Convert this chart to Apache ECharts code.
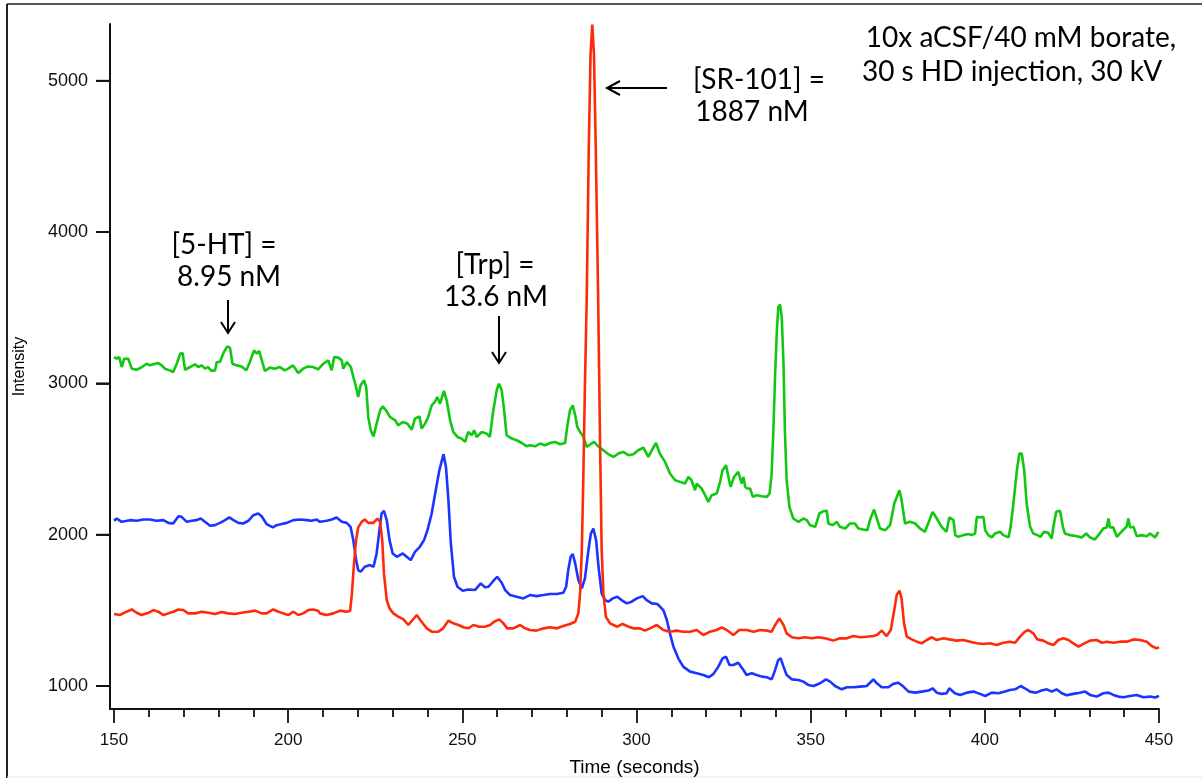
<!DOCTYPE html>
<html>
<head>
<meta charset="utf-8">
<script src="https://cdn.jsdelivr.net/npm/echarts@6/dist/echarts.min.js"></script>
<style>
html,body{margin:0;padding:0;background:#fff;}
#chart{width:1202px;height:778px;}
</style>
</head>
<body>
<div id="chart"></div>
<script>
// ---------- data ----------
const xMajorTicks = [150, 200, 250, 300, 350, 400, 450];
const xMinorTicks = [160,170,180,190,210,220,230,240,260,270,280,290,310,320,330,340,360,370,380,390,410,420,430,440];
const yTicks = [1000, 2000, 3000, 4000, 5000];

const greenTrace = [
[150,3174],[150.8,3163],[151.5,3174],[152.2,3108],[152.9,3163],[154.1,3163],[155.1,3097],[156.5,3090],[158,3108],[159.4,3130],[160.3,3119],[161.3,3126],[162.7,3134],[163.7,3119],[164.6,3097],[166,3086],[167,3075],[168,3130],[169,3196],[169.7,3200],[170.4,3090],[171.8,3108],[173.3,3126],[174.2,3108],[175.2,3119],[176.1,3097],[177,3108],[178,3082],[179,3086],[179.5,3141],[180.4,3141],[181.4,3200],[182.5,3244],[183.3,3236],[184,3130],[185.2,3119],[186.6,3112],[188,3086],[189,3141],[190.2,3218],[191,3196],[191.7,3214],[192.7,3130],[193.3,3082],[194.7,3104],[196.2,3097],[197.6,3108],[199,3086],[200,3097],[201.4,3119],[202.9,3068],[204.3,3097],[205.7,3112],[207.1,3108],[208.6,3093],
[209.1,3086],[210.1,3130],[211.5,3152],[212.5,3086],[213.2,3174],[214.4,3170],[215.4,3152],[215.8,3097],[216.8,3141],[218,3108],[218.7,3042],[219.5,2976],[220.1,2910],[220.8,2987],[221.8,3020],[222.4,2976],[223,2778],[223.7,2690],[224.5,2650],[225.4,2734],[226.4,2822],[227.1,2848],[228.1,2822],[229.2,2778],[230.7,2756],[231.6,2723],[232.9,2745],[234.2,2734],[235.5,2694],[236.4,2767],[237.7,2782],[238.3,2701],[239.3,2734],[240.2,2778],[241.2,2855],[242.1,2877],[242.8,2910],[243.6,2866],[244.7,2950],[245.5,2888],[246.5,2756],[247.4,2679],[248.6,2646],[249.8,2635],[250.8,2613],[251.7,2679],[252.7,2657],[253.4,2690],[254.1,2646],[255.6,2679],[257,2668],[257.9,2646],[258.9,2822],[259.9,2958],[260.5,2998],[261.3,2954],[262,2822],[262.7,2657],[264.2,2635],[265.6,2624],[267.1,2606],[268.5,2584],
[269.4,2591],[270.9,2584],[272.3,2602],[273.7,2591],[275.2,2606],[276.6,2613],[278.1,2598],[279.5,2606],[280.1,2712],[280.9,2822],[281.7,2855],[282.4,2789],[283,2712],[283.8,2679],[284.7,2650],[285.7,2580],[286.8,2598],[287.8,2613],[289,2584],[290.5,2558],[291.9,2532],[293.4,2514],[294.8,2536],[296.2,2547],[297.7,2525],[299.1,2532],[300.5,2558],[302,2576],[303.4,2514],[304.4,2558],[305.6,2606],[306.7,2536],[308.2,2481],[309.6,2404],[311.1,2360],[312.5,2349],[313.9,2338],[314.9,2382],[315.8,2360],[316.8,2294],[317.3,2338],[318.7,2305],[319.7,2261],[320.6,2217],[321.6,2261],[323,2272],[324,2349],[324.7,2426],[325.7,2459],[326.4,2382],[327,2316],[328,2382],[329.2,2415],
[330.2,2338],[330.7,2382],[331.2,2316],[331.8,2305],[332.6,2305],[333.4,2250],[334.5,2261],[336,2254],[337.4,2250],[338.2,2272],[338.8,2404],[339.3,2690],[339.8,3064],[340.3,3350],[340.7,3504],[341.2,3522],[341.7,3438],[342.2,3130],[342.6,2690],[343.1,2360],[343.9,2184],[345,2107],[346.5,2085],[347.9,2107],[348.9,2096],[349.8,2063],[351.3,2052],[352.5,2140],[353.7,2155],[354.6,2158],[355.1,2074],[356.3,2063],[357.5,2085],[358.4,2052],[359.9,2041],[361.3,2074],[362.7,2074],[363.7,2041],[365.1,2034],[366.3,2030],[367,2096],[368.2,2166],[369,2107],[369.9,2041],[371.4,2030],[372.8,2063],[374,2206],[375.5,2294],[376.1,2228],[377.1,2074],[378.5,2085],[380,2074],[381.4,2041],[382.8,2019],[384.1,2096],[385,2151],[386.2,2107],[387.6,2052],[389,2019],[389.8,2114],
[391,2096],[391.5,1997],[392.4,1986],[393.8,1997],[395.3,2004],[396.2,1997],[397.2,2008],[397.7,2118],[398.6,2114],[399.6,2118],[400.1,2030],[401,1997],[402,1982],[402.9,2008],[404.4,2019],[405.3,1997],[406.8,1982],[407.4,2052],[408.2,2206],[409.2,2426],[409.9,2536],[410.6,2536],[411.3,2426],[412,2206],[413,2052],[413.9,2008],[415.1,1997],[416,1986],[417,2019],[418.2,2012],[419.2,1975],[419.7,2056],[420.5,2151],[421.6,2158],[422.4,2052],[423,2008],[424.5,1997],[426.4,1990],[427.8,1982],[429.1,2008],[430.2,1982],[431.6,1968],[433.1,2012],[434,2041],[435,2048],[435.5,2107],[435.9,2048],[436.9,2048],[437.9,1986],[438.8,2008],[439.8,2034],[440.7,2052],[441.2,2107],[441.7,2048],[442.7,2052],[443.6,1990],[445,1997],[446.5,1990],[447.4,2008],[448.9,1982],[449.8,2019]
];

const blueTrace = [
[150,2092],[150.8,2107],[152.2,2085],[154.6,2096],[156.5,2092],[158.4,2100],[160.3,2100],[162.2,2092],[164.2,2096],[165.6,2078],[167,2074],[168.5,2122],[169.4,2118],[170.9,2085],[172.3,2092],[173.7,2096],[174.9,2107],[176.1,2085],[177.6,2059],[179,2063],[180.4,2078],[181.9,2096],[183.1,2114],[184.3,2096],[185.7,2078],[187.1,2074],[188.6,2092],[190,2129],[191.4,2140],[192.4,2122],[193.8,2070],[195.6,2048],[196.7,2063],[198.1,2070],[199.6,2078],[201.5,2096],[203.4,2100],[205.3,2096],[206.7,2092],[208.2,2100],
[209.1,2085],[211.1,2092],[212.5,2100],[213.9,2114],[215.4,2085],[216.8,2078],[217.9,2052],[218.7,1964],[219.5,1832],[220.1,1766],[220.8,1755],[222,1788],[223.5,1799],[224.5,1788],[225.4,1876],[226.2,2030],[226.8,2140],[227.5,2158],[228.3,2096],[229.1,1964],[230,1876],[231.2,1854],[232.9,1876],[234,1854],[235.2,1832],[236.4,1887],[237.8,1920],[239,1964],[240,2030],[241.2,2140],[242.2,2272],[243.4,2426],[244.6,2532],[245.3,2448],[246,2228],[246.7,1942],[247.6,1722],[248.6,1656],[250.1,1630],[251.7,1638],[253.6,1634],[255.3,1678],[256.5,1652],[257.5,1656],[258.7,1689],[260,1722],[261.3,1682],[262.3,1634],[263.7,1601],[265.6,1590],[267.5,1579],
[269.4,1601],[271.3,1594],[273.3,1601],[275.2,1608],[277.1,1608],[279,1616],[279.8,1656],[280.4,1766],[281.1,1854],[281.7,1872],[282.4,1810],[283.3,1700],[284.3,1645],[285.2,1711],[286.2,1898],[286.9,2008],[287.6,2041],[288.4,1964],[289.1,1788],[290,1612],[291,1568],[291.9,1557],[293.2,1579],[294.5,1590],[295.7,1568],[297.2,1546],[298.6,1557],[300.1,1579],[301.8,1594],[302.9,1568],[304.4,1546],[306,1542],[307.7,1502],[308.7,1436],[309.6,1348],[310.6,1260],[312,1183],[313.4,1128],[315.4,1095],[317.3,1084],[319.2,1073],[320.8,1058],[322.1,1080],[323.5,1128],[324.7,1183],[325.7,1194],[326.7,1139],[327.8,1139],[329.2,1154],
[330.7,1106],[331.6,1073],[333.1,1084],[334.5,1073],[336,1062],[337.4,1058],[338.8,1044],[339.8,1106],[340.7,1172],[341.4,1183],[342.2,1128],[343.1,1073],[344.6,1044],[346.5,1040],[347.9,1029],[349.3,1007],[350.8,1000],[352.7,1018],[354.4,1044],[355.6,1029],[357,1000],[358.9,978],[360.4,992],[362.3,992],[364.2,996],[366.1,1000],[368,1044],[369,1018],[370.4,992],[372.3,992],[373.7,1014],[375.2,1022],[376.6,996],[378.1,963],[380,956],[381.9,963],[383.8,970],[385,985],[386.2,956],[387.6,948],[389,952],[389.8,985],
[391.4,952],[392.9,941],[394.8,956],[396.7,963],[398.6,948],[400.1,934],[402,956],[403.9,952],[405.8,963],[407.2,974],[408.7,978],[410.3,1000],[411.5,985],[413,963],[414.7,956],[416.3,970],[417.8,978],[419.2,963],[420.6,978],[422.1,952],[423.5,939],[425.4,948],[427.3,956],[428.8,963],[430.2,941],[432.1,930],[434,952],[435.5,956],[436.9,941],[438.3,930],[439.8,926],[441.7,934],[443.6,941],[445.5,926],[447.4,930],[448.9,924],[450,935]
];

const redTrace = [
[150,1476],[151.7,1469],[153.6,1491],[155.1,1506],[156.5,1484],[157.9,1469],[159.9,1484],[161.3,1502],[162.7,1491],[164.2,1469],[165.6,1480],[167,1491],[168.5,1506],[169.9,1502],[171.3,1480],[173.3,1480],[175.2,1491],[177.1,1484],[179,1476],[180.9,1489],[182.8,1480],[184.7,1476],[186.6,1484],[188.6,1491],[190.5,1498],[192.4,1480],[193.8,1480],[195.7,1506],[197.2,1491],[198.6,1480],[200,1469],[201.5,1491],[202.9,1469],[204.3,1480],[205.8,1502],[207.2,1506],[208.6,1498],
[209.1,1480],[211,1469],[213,1480],[214.9,1498],[216.8,1491],[217.8,1498],[218.3,1612],[218.9,1810],[219.5,1964],[220.1,2048],[221.1,2085],[222,2100],[223,2078],[224.5,2078],[225.6,2107],[226.4,2085],[227,1964],[227.5,1744],[228.3,1568],[229.1,1513],[230.2,1480],[231.6,1458],[233.1,1440],[234.5,1403],[235.7,1436],[236.9,1469],[238.3,1425],[239.8,1381],[241.2,1359],[243.1,1359],[244.5,1381],[246,1432],[247.4,1414],[248.9,1403],[250.3,1388],[251.7,1381],[253.2,1403],[254.9,1392],[256.5,1392],[258,1403],[259.1,1425],[260.6,1440],[261.8,1414],[262.9,1381],[264.6,1381],[266.6,1403],[268,1381],
[269.4,1370],[271.3,1366],[273.3,1381],[275.2,1388],[277.1,1381],[279,1396],[280.9,1410],[282.4,1425],[283.3,1480],[283.8,1612],[284.3,1898],[284.7,2338],[285.2,2998],[285.7,3548],[286.3,4558],[286.8,5170],[287.3,5372],[287.8,5170],[288.3,4558],[289,3548],[289.5,2668],[290,1898],[290.5,1612],[291.2,1458],[292.4,1414],[293.4,1403],[294.5,1392],[296,1410],[297.7,1392],[299.1,1381],[301,1381],[302.4,1366],[303.9,1381],[305.8,1403],[307.7,1370],[309.6,1359],[311.5,1366],[313.4,1359],[315.4,1359],[317.3,1370],[319.2,1337],[321.1,1359],[323,1370],[324.5,1388],[325.9,1370],[327.8,1337],[329.5,1370],
[331.6,1370],[333.6,1359],[335.5,1370],[337.4,1366],[338.8,1359],[339.8,1403],[341,1447],[342.2,1403],[343.1,1348],[344.6,1322],[346.5,1315],[348.4,1322],[350.3,1315],[352.2,1322],[354.1,1315],[356.5,1300],[358.4,1315],[360.4,1315],[362.3,1330],[364.2,1322],[366.1,1326],[368,1330],[369,1337],[370.4,1366],[371.8,1330],[373,1370],[374,1502],[374.7,1601],[375.5,1630],[376.1,1579],[376.8,1414],[377.6,1326],[379,1308],[380.5,1293],[381.9,1282],[383.3,1304],[384.8,1322],[386.2,1304],[388.1,1315],[389.8,1308],
[391.9,1300],[393.8,1304],[395.8,1293],[397.7,1282],[399.6,1278],[401.5,1282],[403.4,1271],[405.3,1286],[407.2,1293],[408.7,1286],[410.1,1326],[411.5,1359],[412.5,1370],[413.9,1348],[415.1,1308],[416.8,1300],[418.2,1282],[419.7,1271],[421.1,1304],[422.6,1315],[424,1304],[425.4,1282],[426.9,1260],[428.3,1278],[430.2,1300],[432.1,1304],[433.6,1286],[435,1293],[436.9,1286],[438.8,1293],[440.7,1293],[442.7,1308],[444.6,1304],[446.5,1293],[447.9,1264],[449.3,1249],[450,1256]
];

// ---------- chart ----------
const chart = echarts.init(document.getElementById('chart'), null, {renderer: 'canvas'});
const axisColor = '#111';
const labelFont = '"Liberation Sans", Arial, Helvetica, sans-serif';
const noteFont = 'Lato, "Open Sans", sans-serif';
const plainNum = function (v) { return String(Math.round(v)); };
const X_MIN = 148.85, X_MAX = 450, Y_MIN = 848, Y_MAX = 5375;

function lineSeries(name, data, color, z) {
  return {
    name: name, type: 'line', data: data, xAxisIndex: 0, yAxisIndex: 0,
    showSymbol: false, symbol: 'none', smooth: false, z: z,
    lineStyle: {color: color, width: 2.6}, animation: false
  };
}
function note(text, x, y, size) {
  return {type: 'text', x: x, y: y, style: {text: text, fontSize: size, fontFamily: noteFont, fill: '#000', align: 'center', verticalAlign: 'middle'}};
}

// y-axis tick marks drawn through the library's scale (custom series)
const yTickSeries = {
  name: 'y ticks', type: 'custom', coordinateSystem: 'cartesian2d',
  xAxisIndex: 0, yAxisIndex: 0, clip: false, silent: true, z: 10, animation: false,
  data: yTicks.map(function (v) { return [X_MIN, v]; }),
  renderItem: function (params, api) {
    const p = api.coord([api.value(0), api.value(1)]);
    return {
      type: 'line',
      shape: {x1: p[0] - 14, y1: p[1], x2: p[0], y2: p[1]},
      style: {stroke: axisColor, lineWidth: 1.8}
    };
  }
};

const option = {
  animation: false,
  backgroundColor: '#fff',
  grid: {left: 110, right: 43, top: 24, bottom: 69, outerBoundsMode: 'none', containLabel: false},
  xAxis: [{
    type: 'value', min: X_MIN, max: X_MAX, position: 'bottom',
    name: 'Time (seconds)', nameLocation: 'middle', nameGap: 49,
    nameTextStyle: {fontSize: 19, color: '#000', fontFamily: labelFont},
    axisLine: {show: true, onZero: false, lineStyle: {color: axisColor, width: 2}},
    axisTick: {show: true, length: 14, inside: false, customValues: xMajorTicks, lineStyle: {color: axisColor, width: 1.8}},
    axisLabel: {show: true, customValues: xMajorTicks, formatter: plainNum, fontSize: 17, color: '#111', fontFamily: labelFont, margin: 23},
    splitLine: {show: false}
  }, {
    type: 'value', min: X_MIN, max: X_MAX, position: 'bottom',
    axisLine: {show: false, onZero: false},
    axisTick: {show: true, length: 8, inside: false, customValues: xMinorTicks, lineStyle: {color: axisColor, width: 1.8}},
    axisLabel: {show: false},
    splitLine: {show: false}
  }],
  yAxis: {
    type: 'value', min: Y_MIN, max: Y_MAX, position: 'left',
    name: 'Intensity', nameLocation: 'middle', nameGap: 82, nameRotate: 90,
    nameTextStyle: {fontSize: 16, color: '#000', fontFamily: labelFont},
    axisLine: {show: true, onZero: false, lineStyle: {color: axisColor, width: 2}},
    axisTick: {show: true, length: 14, inside: false, customValues: yTicks, lineStyle: {color: axisColor, width: 1.8}},
    axisLabel: {show: true, customValues: yTicks, formatter: plainNum, fontSize: 18, color: '#111', fontFamily: labelFont, margin: 22},
    splitLine: {show: false}
  },
  series: [
    lineSeries('Green trace', greenTrace, '#10c810', 2),
    lineSeries('Blue trace', blueTrace, '#1a35ff', 3),
    lineSeries('Red trace', redTrace, '#ff2a0a', 4),
    yTickSeries
  ],
  graphic: [
    {type: 'line', shape: {x1: 7, y1: 4, x2: 1202, y2: 4}, style: {stroke: '#555', lineWidth: 2}, silent: true},
    {type: 'line', shape: {x1: 7, y1: 4, x2: 7, y2: 778}, style: {stroke: '#222', lineWidth: 2}, silent: true},
    {type: 'line', shape: {x1: 7, y1: 777, x2: 1202, y2: 777}, style: {stroke: '#e6e6e6', lineWidth: 1}, silent: true},
    note('10x aCSF/40 mM borate,', 1021, 38, 28),
    note('30 s HD injection, 30 kV', 1012, 72, 28),
    note('[SR-101] =', 759, 80, 28),
    note('1887 nM', 752, 112, 28),
    note('[5-HT] =', 224, 245, 28),
    note('8.95 nM', 229, 277, 28),
    note('[Trp] =', 495, 265, 28),
    note('13.6 nM', 496, 297, 28),
    {type: 'line', shape: {x1: 228, y1: 300, x2: 228, y2: 332}, style: {stroke: '#000', lineWidth: 2}},
    {type: 'polyline', shape: {points: [[221, 322], [228, 333], [235, 322]]}, style: {stroke: '#000', lineWidth: 2, fill: null}},
    {type: 'line', shape: {x1: 499, y1: 316, x2: 499, y2: 362}, style: {stroke: '#000', lineWidth: 2}},
    {type: 'polyline', shape: {points: [[492, 352], [499, 363], [506, 352]]}, style: {stroke: '#000', lineWidth: 2, fill: null}},
    {type: 'line', shape: {x1: 667, y1: 88, x2: 608, y2: 88}, style: {stroke: '#000', lineWidth: 2}},
    {type: 'polyline', shape: {points: [[620, 81], [607, 88], [620, 95]]}, style: {stroke: '#000', lineWidth: 2, fill: null}}
  ]
};
chart.setOption(option);
</script>
</body>
</html>
